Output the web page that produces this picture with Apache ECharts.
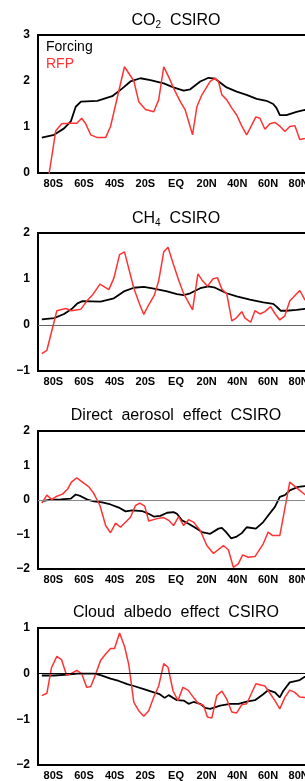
<!DOCTYPE html>
<html>
<head>
<meta charset="utf-8">
<script src="https://cdn.jsdelivr.net/npm/echarts@6/dist/echarts.min.js"></script>
<style>
  html, body { margin: 0; padding: 0; background: #fff; overflow: hidden; }
  #chart { width: 320px; height: 781px; }
</style>
</head>
<body>
<div id="chart"></div>
<script>
// latitude tick labels
const xTicks = [-80, -60, -40, -20, 0, 20, 40, 60, 80];

// [latitude, W/m2]
const co2Forcing = [[-87.5,0.77],[-79.5,0.83],[-73,0.97],[-68.6,1.12],[-65.4,1.44],[-62,1.55],[-51.3,1.57],[-41.6,1.67],[-35,1.84],[-29.7,1.99],[-23.2,2.06],[-16.7,2.02],[-8,1.95],[-1.7,1.86],[5,1.79],[9.3,1.82],[15.8,1.99],[21.2,2.07],[25.5,2.05],[33,1.86],[39.6,1.77],[46,1.7],[52.6,1.61],[59,1.57],[63.4,1.5],[65.6,1.41],[67.7,1.26],[72,1.26],[78.6,1.33],[84,1.37],[88,1.38]];
const co2Rfp = [[-87.5,-1.0],[-82.7,0],[-78.4,0.92],[-74.5,1.07],[-68.6,1.08],[-64.7,1.08],[-61.5,1.19],[-58.9,1.07],[-55.6,0.83],[-51.3,0.77],[-45.9,0.77],[-42.7,1.01],[-33.6,2.31],[-27.5,2.0],[-24.3,1.55],[-19.9,1.38],[-14.5,1.33],[-11.3,1.59],[-8,2.31],[-4.8,2.09],[-0.5,1.77],[2.8,1.55],[6,1.37],[10.8,0.83],[13.6,1.44],[16.9,1.7],[22.3,1.99],[25.5,2.06],[27.7,1.99],[29.9,1.7],[33.1,1.59],[36.4,1.41],[39.6,1.26],[42.9,1.02],[46.1,0.83],[52.1,1.22],[54.7,1.19],[58,0.95],[61.2,1.07],[64.5,1.1],[67.7,1.02],[71,0.9],[74.2,1.01],[77.5,1.03],[80.7,0.73],[84,0.75],[88,0.78]];

const ch4Forcing = [[-87.5,0.12],[-79.5,0.15],[-73,0.24],[-67.6,0.36],[-64.3,0.47],[-61,0.52],[-49.2,0.51],[-40.5,0.58],[-34,0.73],[-27.5,0.81],[-21,0.83],[-14.5,0.79],[-5.8,0.73],[0.6,0.67],[5,0.65],[9.3,0.69],[15.8,0.8],[21.2,0.84],[25.5,0.81],[33,0.69],[39.6,0.62],[48.2,0.55],[56.9,0.49],[63.4,0.46],[65.6,0.4],[68.2,0.31],[72,0.31],[78.6,0.33],[84,0.35],[88,0.36]];
const ch4Rfp = [[-87.5,-0.62],[-84.2,-0.55],[-77.7,0.31],[-71.9,0.36],[-68.2,0.31],[-62.1,0.34],[-58.2,0.52],[-54.5,0.65],[-49.6,0.89],[-43.8,0.77],[-40.5,1.02],[-36.8,1.53],[-33.6,1.59],[-27.5,0.8],[-23.6,0.44],[-21,0.23],[-17.8,0.44],[-14.1,0.65],[-11.3,0.96],[-8,1.59],[-5.2,1.69],[-1.6,1.31],[1.7,0.98],[5,0.68],[10.8,0.33],[14.3,1.11],[16.9,0.98],[20.5,0.84],[24,1.0],[27,1.03],[29.9,0.78],[33.1,0.68],[36.4,0.09],[39.2,0.15],[42.9,0.29],[45,0.15],[48.7,0.06],[51.5,0.31],[54.7,0.24],[58,0.29],[61.7,0.4],[64.5,0.25],[67.7,0.11],[71,0.2],[74.2,0.52],[80.7,0.75],[84,0.55],[88,0.45]];

const aerForcing = [[-87.5,-0.03],[-81.6,0.01],[-75.1,0.02],[-68.6,0.04],[-65.4,0.16],[-62.1,0.11],[-57.8,0.01],[-53.5,-0.04],[-48.1,-0.07],[-42.7,-0.13],[-37.3,-0.22],[-32.9,-0.33],[-28.6,-0.3],[-22.1,-0.32],[-17.8,-0.4],[-14.5,-0.48],[-10.2,-0.46],[-5.8,-0.37],[-1.6,-0.35],[0.6,-0.4],[3.9,-0.59],[8.2,-0.69],[13.6,-0.83],[16.9,-0.93],[22.3,-0.98],[27.7,-0.83],[29.9,-0.81],[32.7,-0.93],[35.9,-1.11],[39.6,-1.06],[42.9,-0.96],[46.1,-0.79],[52.1,-0.83],[56.9,-0.64],[60.1,-0.45],[64.5,-0.2],[67.7,0.09],[71,0.14],[74.2,0.28],[79.6,0.38],[84,0.4],[88,0.41]];
const aerRfp = [[-87.5,-0.09],[-84.2,0.14],[-81,0.01],[-77.7,0.11],[-74,0.17],[-70.8,0.31],[-68.2,0.52],[-64.7,0.64],[-61,0.52],[-56.8,0.38],[-53.5,0.18],[-49.6,-0.16],[-45.9,-0.74],[-42.7,-0.95],[-39.4,-0.67],[-36.2,-0.79],[-29.7,-0.5],[-26.4,-0.16],[-23.6,-0.09],[-20.4,-0.18],[-17.8,-0.61],[-12.3,-0.54],[-8,-0.51],[-4.8,-0.59],[-1.6,-0.74],[1.7,-0.48],[5,-0.74],[8.2,-0.57],[11.4,-0.64],[15.8,-0.88],[20.1,-1.32],[24.4,-1.55],[30.9,-1.32],[34.2,-1.45],[37.4,-1.95],[40.6,-1.85],[43.5,-1.59],[47.1,-1.66],[51.5,-1.64],[56.9,-1.27],[60.1,-0.93],[63,-1.03],[67.7,-1.03],[74.2,0.52],[80.7,0.28],[84,0.16],[88,0.1]];

const cldForcing = [[-87.5,-0.04],[-79.5,-0.04],[-70.8,-0.02],[-64.3,0],[-53.5,0],[-49.2,-0.03],[-42.7,-0.11],[-37.3,-0.16],[-31.8,-0.23],[-27.5,-0.27],[-21,-0.34],[-14.5,-0.41],[-10.6,-0.45],[-7.4,-0.53],[-4.8,-0.47],[0.6,-0.58],[5,-0.59],[8.2,-0.66],[11.4,-0.62],[15.8,-0.66],[19,-0.75],[22.3,-0.77],[28.8,-0.7],[35.3,-0.66],[40.8,-0.66],[46.1,-0.61],[51.5,-0.58],[56.9,-0.45],[60.1,-0.36],[64.5,-0.41],[67.7,-0.52],[69.9,-0.38],[74.2,-0.19],[78.6,-0.16],[80.7,-0.14],[84,-0.07],[88,-0.03]];
const cldRfp = [[-87.5,-0.48],[-84.2,-0.43],[-81.2,0.13],[-77.7,0.38],[-74.7,0.31],[-71.4,-0.03],[-68.6,0],[-64.7,0.07],[-61.5,0],[-58.2,-0.3],[-55.6,-0.28],[-52.4,-0.01],[-49.2,0.29],[-45.9,0.43],[-42.7,0.55],[-40.1,0.55],[-36.8,0.89],[-33.6,0.6],[-30.8,0.2],[-27.5,-0.63],[-24.3,-0.81],[-21,-0.93],[-17.8,-0.81],[-14.5,-0.51],[-11.3,-0.27],[-8,0.22],[-5.2,0.14],[-1.9,-0.38],[1.3,-0.59],[4.5,-0.3],[7.8,-0.36],[11.4,-0.52],[14.7,-0.66],[17.9,-0.69],[20.5,-0.95],[23.4,-0.97],[26.6,-0.48],[29.9,-0.38],[33.1,-0.56],[36.4,-0.84],[39.6,-0.86],[42.9,-0.68],[46.1,-0.66],[52.1,-0.22],[58,-0.27],[61.7,-0.45],[64.5,-0.59],[67.7,-0.77],[71,-0.52],[74.2,-0.36],[77.5,-0.41],[80.7,-0.51],[84,-0.52],[88,-0.5]];

const titles = ['CO{s|2}  CSIRO', 'CH{s|4}  CSIRO', 'Direct  aerosol  effect  CSIRO', 'Cloud  albedo  effect  CSIRO'];
const yMins = [0, -1, -2, -2];
const yMaxs = [3, 2, 2, 1];
const zeroColors = [null, '#666', '#888', '#000'];
const forcing = [co2Forcing, ch4Forcing, aerForcing, cldForcing];
const rfp = [co2Rfp, ch4Rfp, aerRfp, cldRfp];
const gridTops = [35, 233, 431, 628];

const FONT = '"Liberation Sans", Arial, sans-serif';
const chart = echarts.init(document.getElementById('chart'));

const option = {
  animation: false,
  title: [],
  grid: [],
  xAxis: [],
  yAxis: [],
  series: [],
  graphic: [
    { type: 'text', left: 46, top: 40, style: { text: 'Forcing', fill: '#000', font: '14px ' + FONT } },
    { type: 'text', left: 46, top: 57, style: { text: 'RFP', fill: '#ff3333', font: '14px ' + FONT } }
  ]
};

gridTops.forEach((top, i) => {
  option.title.push({
    text: titles[i],
    left: 176, top: top - 23, textAlign: 'center', padding: 0,
    textStyle: {
      fontFamily: FONT, fontSize: 16, fontWeight: 'normal', color: '#000',
      rich: { s: { fontFamily: FONT, fontSize: 10, color: '#000', padding: [8, 0, 0, 0] } }
    }
  });
  option.grid.push({
    left: 38, right: 6, top: top, height: 138,
    show: true, borderColor: '#000', borderWidth: 2, backgroundColor: 'transparent'
  });
  option.xAxis.push({
    type: 'value', gridIndex: i, min: -90, max: 90,
    axisLine: { show: false }, axisTick: { show: false }, splitLine: { show: false },
    axisLabel: {
      customValues: xTicks, margin: 5, color: '#000', fontFamily: FONT, fontSize: 11, fontWeight: 'bold',
      formatter: v => v < 0 ? (-v) + 'S' : (v > 0 ? v + 'N' : 'EQ')
    }
  });
  option.yAxis.push({
    type: 'value', gridIndex: i, min: yMins[i], max: yMaxs[i], interval: 1,
    axisLine: { show: false }, axisTick: { show: false }, splitLine: { show: false },
    axisLabel: {
      margin: 8, color: '#000', fontFamily: FONT, fontSize: 12, fontWeight: 'bold',
      formatter: v => String(v).replace('-', '\u2212')
    }
  });
  option.series.push({
    name: 'Forcing', type: 'line', xAxisIndex: i, yAxisIndex: i, data: forcing[i],
    showSymbol: false, clip: true, lineStyle: { color: '#000', width: 1.8 },
    markLine: zeroColors[i] ? {
      silent: true, symbol: ['none', 'none'], label: { show: false },
      lineStyle: { color: zeroColors[i], width: 1, type: 'solid' },
      data: [{ yAxis: 0 }]
    } : undefined
  });
  option.series.push({
    name: 'RFP', type: 'line', xAxisIndex: i, yAxisIndex: i, data: rfp[i],
    showSymbol: false, clip: true, lineStyle: { color: '#ff3333', width: 1.5 }
  });
});

chart.setOption(option);
</script>
</body>
</html>
